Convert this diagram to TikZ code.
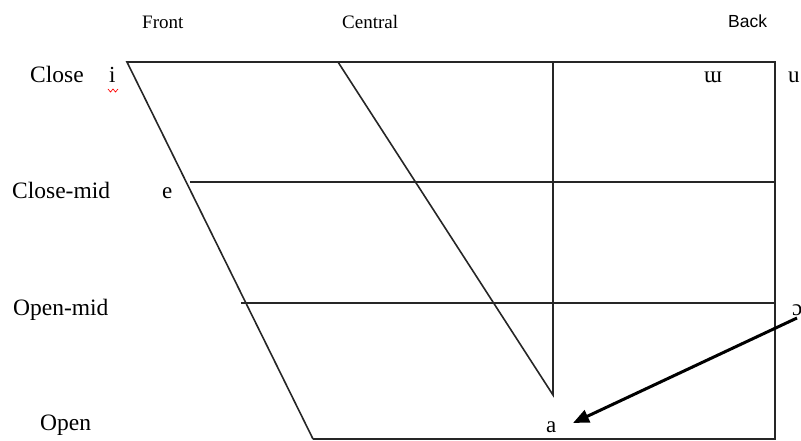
\documentclass[tikz,border=0pt]{standalone}
\usepackage{fontspec}
\setmainfont{Liberation Serif}
\newfontfamily\backfont{Liberation Sans}
\usetikzlibrary{arrows.meta}
\begin{document}
\begin{tikzpicture}[x=1pt,y=-1pt,
  chartline/.style={line width=1.6pt,draw=black!85},
  lab/.style={anchor=base west,inner sep=0pt,font=\fontsize{23.5}{27}\selectfont},
  toplab/.style={anchor=base west,inner sep=0pt,font=\fontsize{19}{22}\selectfont},
  vow/.style={anchor=base west,inner sep=0pt,font=\fontsize{23}{27}\selectfont},
  arr/.style={line width=3pt,-{Triangle[length=16pt,width=13pt]}}]
\useasboundingbox (0,0) rectangle (801,441);
% corners
\coordinate (tl) at (127,62);
\coordinate (tr) at (775,62);
\coordinate (bl) at (313,439);
\coordinate (br) at (775,439);
\coordinate (ct) at (338,62);
\coordinate (cb) at (553,395);
\coordinate (vt) at (553,62);
\coordinate (cml) at (190,182);
\coordinate (cmr) at (775,182);
\coordinate (oml) at (241,303);
\coordinate (omr) at (775,303);
\coordinate (as) at (797,318);
\coordinate (ae) at (573,423);
% frame
\draw[chartline] (bl) -- (tl) -- (tr) -- (br) -- (bl);
\draw[chartline] (ct) -- (cb) -- (vt);
\draw[chartline] (cml) -- (cmr);
\draw[chartline] (oml) -- (omr);
% labels
\node[toplab] (front) at (142,29) {Front};
\node[toplab] (central) at (342,29) {Central};
\node[toplab,font=\backfont\fontsize{17.5}{20}\selectfont] (back) at (728,28) {Back};
\node[lab] (close) at (30,83) {Close};
\node[lab] (closemid) at (12,198) {Close-mid};
\node[lab] (openmid) at (13,315) {Open-mid};
\node[lab] (open) at (40,430) {Open};
% vowels
\node[vow] (i) at (109,83) {i};
\node[vow] (e) at (162,198) {e};
\node[vow] (uu) at (704,83) {ɯ};
\node[vow] (u) at (788,83) {u};
\node[vow] (oo) at (792,315) {ɔ};
\node[vow] (a) at (546,432) {a};
% spelling squiggle
\draw[red,line width=0.7pt] (108,89) -- (110.5,92) -- (113,89) -- (115.5,92) -- (118,89);
% arrow
\draw[arr] (as) -- (ae);
\end{tikzpicture}
\end{document}
